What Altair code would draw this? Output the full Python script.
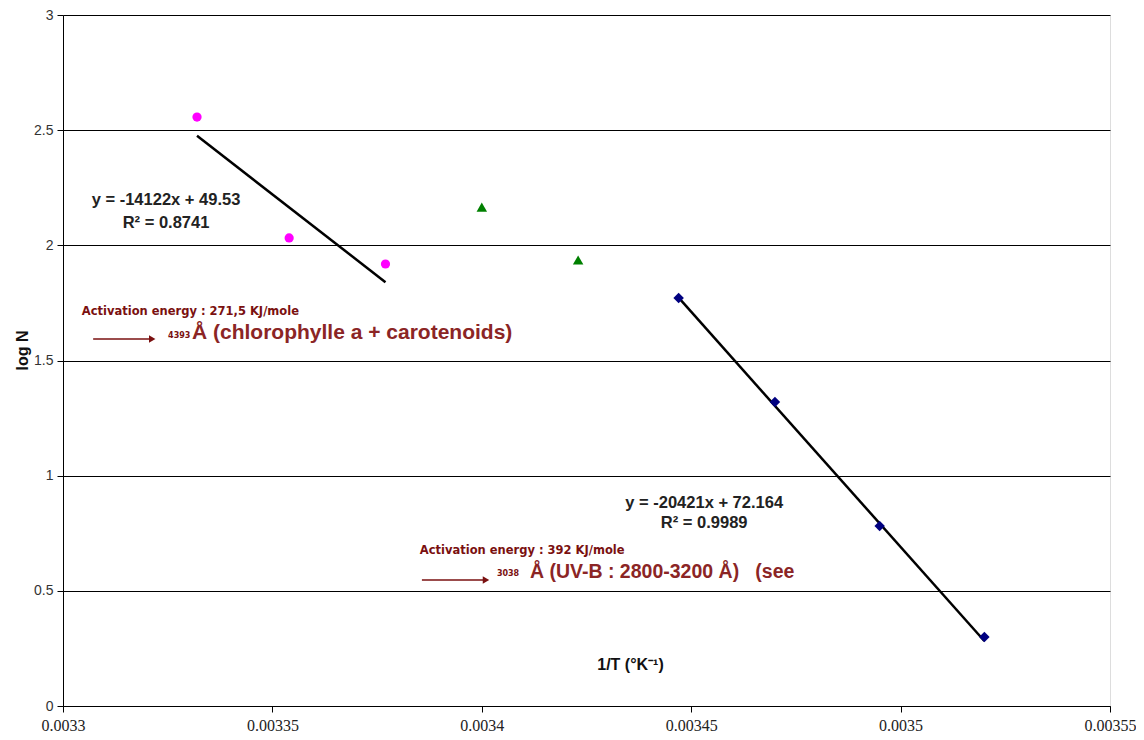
import altair as alt
import pandas as pd

# ---- data ----
pink_x = [0.003332, 0.003354, 0.003377]
pink_y = [2.557, 2.032, 1.919]
green_x = [0.003400, 0.003423]
green_y = [2.166, 1.936]
blue_x = [0.003447, 0.003470, 0.003495, 0.003520]
blue_y = [1.771, 1.320, 0.781, 0.300]

# trend lines (from the equations shown on the chart)
fit_slope = [-14122, -20421]
fit_intercept = [49.53, 72.164]
fit_x0 = [pink_x[0], blue_x[0]]
fit_x1 = [pink_x[-1], blue_x[-1]]

x_ticks = [0.0033, 0.00335, 0.0034, 0.00345, 0.0035, 0.00355]
y_ticks = [0, 0.5, 1, 1.5, 2, 2.5, 3]

# annotations (data coordinates)
eq_x = [0.0033246, 0.0033246, 0.0034531, 0.0034531]
eq_y = [2.197, 2.097, 0.881, 0.795]
eq_text = ["y = -14122x + 49.53", "R² = 0.8741", "y = -20421x + 72.164", "R² = 0.9989"]

act_x = [0.0033045, 0.0033852]
act_y = [1.711, 0.673]
act_text = ["Activation energy : 271,5 KJ/mole", "Activation energy : 392 KJ/mole"]

wl_x = [0.0033251, 0.0034036]
wl_y = [1.606, 0.573]
wl_text = ["4393", "3038"]

main1_x = [0.0033308]
main1_y = [1.619]
main1_text = ["Å (chlorophylle a + carotenoids)"]
main2_x = [0.0034115]
main2_y = [0.582]
main2_text = ["Å (UV-B : 2800-3200 Å)\u00a0\u00a0\u00a0(see"]

arrow_x0 = [0.0033072, 0.0033857]
arrow_x1 = [0.0033213, 0.003401]
arrow_y = [1.593, 0.547]

DARKRED = "#7a1010"
TEXTRED = "#8b2525"

xscale = alt.Scale(domain=[0.0033, 0.00355], nice=False, zero=False)
yscale = alt.Scale(domain=[0, 3], nice=False)

xaxis = alt.Axis(values=x_ticks, format="~g", grid=False, labelFlush=False,
                 labelFont="Liberation Sans Narrow", labelFontSize=16, labelColor="#222",
                 labelPadding=5, tickSize=6, tickColor="black", domainColor="black",
                 title="1/T (°K⁻¹)", titleFont="Liberation Sans", titleFontSize=16,
                 titleFontWeight="bold", titleColor="#111", titleX=567, titleY=-42,
                 titleAlign="center", titleBaseline="middle")
yaxis = alt.Axis(values=y_ticks, format="~g", grid=True, gridColor="black", gridWidth=1,
                 labelFlush=False,
                 labelFont="Liberation Sans", labelFontSize=14, labelColor="#333",
                 labelPadding=4, tickSize=6, tickColor="black", domainColor="black",
                 title="log N", titleFont="Liberation Sans", titleFontSize=16,
                 titleFontWeight="bold", titleColor="#111", titleX=-41, titleY=335,
                 titleAlign="center", titleBaseline="middle")


def X(field="x"):
    return alt.X(f"{field}:Q", scale=xscale, axis=xaxis)


def Y(field="y"):
    return alt.Y(f"{field}:Q", scale=yscale, axis=yaxis)


pink_df = pd.DataFrame({"x": pink_x, "y": pink_y})
green_df = pd.DataFrame({"x": green_x, "y": green_y})
blue_df = pd.DataFrame({"x": blue_x, "y": blue_y})

pink = alt.Chart(pink_df).mark_point(shape="circle", filled=True, size=85, color="#ff00ff", opacity=1).encode(
    x=X(), y=Y())
green = alt.Chart(green_df).mark_point(shape="triangle-up", filled=True, size=110, color="#008000", opacity=1).encode(
    x=X(), y=Y())
blue = alt.Chart(blue_df).mark_point(shape="diamond", filled=True, size=110, color="#000080", opacity=1).encode(
    x=X(), y=Y())

fit_df = pd.DataFrame({"x": fit_x0, "x2": fit_x1, "m": fit_slope, "b": fit_intercept})
fits = alt.Chart(fit_df).mark_rule(color="black", strokeWidth=2.5).transform_calculate(
    y="datum.m * datum.x + datum.b", y2="datum.m * datum.x2 + datum.b"
).encode(x=X(), y=Y(), x2="x2:Q", y2="y2:Q")

eq_df = pd.DataFrame({"x": eq_x, "y": eq_y, "t": eq_text})
eqs = alt.Chart(eq_df).mark_text(font="Liberation Sans", fontSize=16.5, fontWeight="bold",
                                  color="#222", align="center", baseline="middle").encode(
    x=X(), y=Y(), text="t:N")

act_df = pd.DataFrame({"x": act_x, "y": act_y, "t": act_text})
acts = alt.Chart(act_df).mark_text(font="DejaVu Sans", fontSize=11.5, fontWeight="bold",
                                    color=DARKRED, align="left", baseline="middle").encode(
    x=X(), y=Y(), text="t:N")

wl_df = pd.DataFrame({"x": wl_x, "y": wl_y, "t": wl_text})
wls = alt.Chart(wl_df).mark_text(font="DejaVu Sans", fontSize=8, fontWeight="bold",
                                  color=DARKRED, align="left", baseline="middle").encode(
    x=X(), y=Y(), text="t:N")

main1_df = pd.DataFrame({"x": main1_x, "y": main1_y, "t": main1_text})
main1 = alt.Chart(main1_df).mark_text(font="Liberation Sans", fontSize=21, fontWeight="bold",
                                       color=TEXTRED, align="left", baseline="middle").encode(
    x=X(), y=Y(), text="t:N")
main2_df = pd.DataFrame({"x": main2_x, "y": main2_y, "t": main2_text})
main2 = alt.Chart(main2_df).mark_text(font="Liberation Sans", fontSize=19.5, fontWeight="bold",
                                       color=TEXTRED, align="left", baseline="middle").encode(
    x=X(), y=Y(), text="t:N")

arrow_df = pd.DataFrame({"x": arrow_x0, "x2": arrow_x1, "y": arrow_y})
shafts = alt.Chart(arrow_df).mark_rule(color=DARKRED, strokeWidth=1.5).encode(
    x=X(), x2="x2:Q", y=Y())
heads = alt.Chart(arrow_df).mark_point(shape="triangle-right", filled=True, size=55,
                                        color=DARKRED, opacity=1).encode(
    x=X("x2"), y=Y())

chart = alt.layer(pink, fits, green, blue, eqs, acts, wls, main1, main2, shafts, heads).properties(
    width=1047, height=691,
    padding={"left": 55, "top": 7, "right": 26, "bottom": 26},
    autosize=alt.AutoSizeParams(type="none"),
).configure_view(stroke="#808080", strokeWidth=1.5).configure(background="white")

chart.save("out.html", embed_options={"renderer": "svg", "actions": False})
